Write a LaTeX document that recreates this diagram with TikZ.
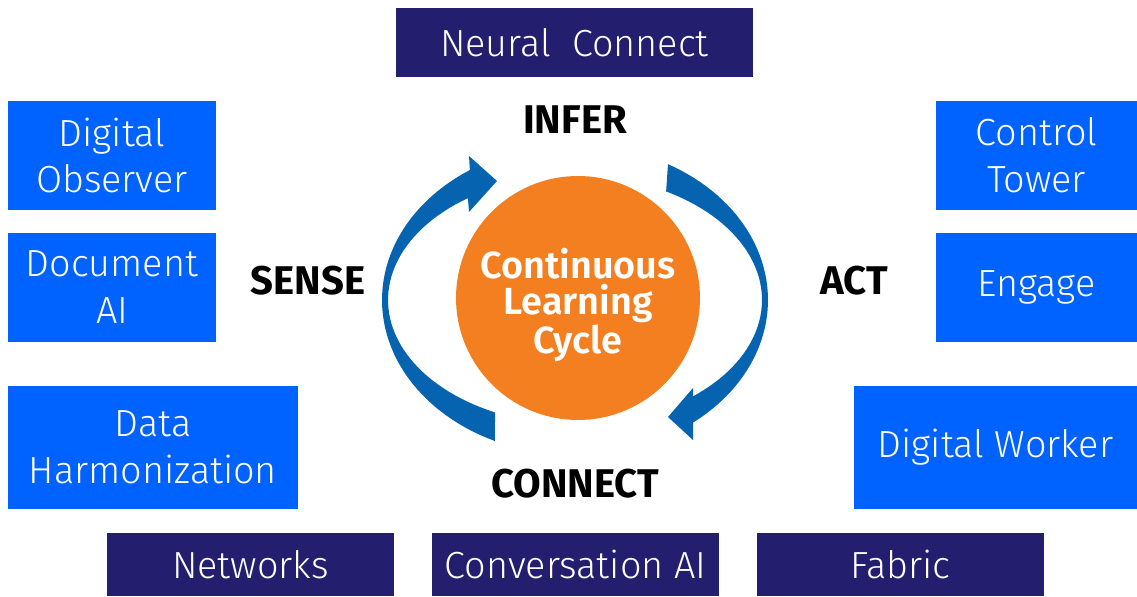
\documentclass[tikz,border=0pt]{standalone}
\usepackage{fontspec}
\setmainfont{Fira Sans}[UprightFont=* Light, BoldFont=* SemiBold]
\newfontfamily\stagefont{Fira Sans}[UprightFont=* Bold]
\definecolor{boxblue}{RGB}{0,98,255}
\definecolor{boxnavy}{RGB}{35,30,110}
\definecolor{cycleblue}{RGB}{5,99,176}
\definecolor{cycleorange}{RGB}{244,127,32}
\begin{document}
\begin{tikzpicture}[x=0.02cm,y=-0.02cm,
    box/.style={fill=boxblue,text=white,inner sep=0pt,align=center,
      font=\fontsize{21.5}{26.7}\selectfont},
    darkbox/.style={box,fill=boxnavy},
    stage/.style={font=\fontsize{22.8}{25}\selectfont\stagefont}]
  \useasboundingbox (0,0) rectangle (1137,597);

  % top and bottom bars
  \node[darkbox,minimum width=7.14cm,minimum height=1.38cm] (neural) at (574.5,42.5) {Neural~~Connect};
  \node[darkbox,minimum width=5.74cm,minimum height=1.26cm] (networks) at (250.5,564.5) {Networks};
  \node[darkbox,minimum width=5.74cm,minimum height=1.26cm] (convai) at (575.5,564.5) {Conversation AI};
  \node[darkbox,minimum width=5.74cm,minimum height=1.26cm] (fabric) at (900.5,564.5) {Fabric};

  % left side
  \node[box,minimum width=4.16cm,minimum height=2.18cm] (observer) at (112,155.5) {Digital\\Observer};
  \node[box,minimum width=4.16cm,minimum height=2.18cm] (docai) at (112,287.5) {Document\\AI};
  \node[box,minimum width=5.8cm,minimum height=2.46cm] (harmon) at (153,447.5) {Data\\Harmonization};

  % right side
  \node[box,minimum width=4.02cm,minimum height=2.18cm] (tower) at (1036.5,155.5) {Control\\Tower};
  \node[box,minimum width=4.02cm,minimum height=2.18cm] (engage) at (1036.5,287.5) {Engage};
  \node[box,minimum width=5.66cm,minimum height=2.46cm] (worker) at (995.5,447.5) {Digital Worker};

  % stages
  \node[stage] (infer) at (575,120) {INFER};
  \node[stage] (sense) at (308,281) {SENSE};
  \node[stage] (act) at (854,281) {ACT};
  \node[stage] (connect) at (575,484) {CONNECT};

  % cycle arrows
  \fill[cycleblue] plot[domain=114.5:237,samples=50] ({575+193*cos(\x)},{300+155*sin(\x)})
    -- (469,156) -- (497,181) -- (469,212)
    -- plot[domain=234.6:115.9,samples=50] ({578+190*cos(\x)},{300+125*sin(\x)}) -- cycle;
  \fill[cycleblue] plot[domain=-61.2:52.3,samples=50] ({575+193*cos(\x)},{300+155*sin(\x)})
    -- (693,440) -- (668,417) -- (693,388)
    -- plot[domain=50.4:-60.3,samples=50] ({572+190*cos(\x)},{300+125*sin(\x)}) -- cycle;

  \node[circle,fill=cycleorange,minimum size=4.88cm,inner sep=0pt] (cycle) at (578,298) {};
  \node[text=white,align=center,font=\fontsize{21.5}{20.5}\selectfont\bfseries]
    (cycletext) at ([yshift=-0.14cm]cycle.center) {Continuous\\Learning\\Cycle};
\end{tikzpicture}
\end{document}
